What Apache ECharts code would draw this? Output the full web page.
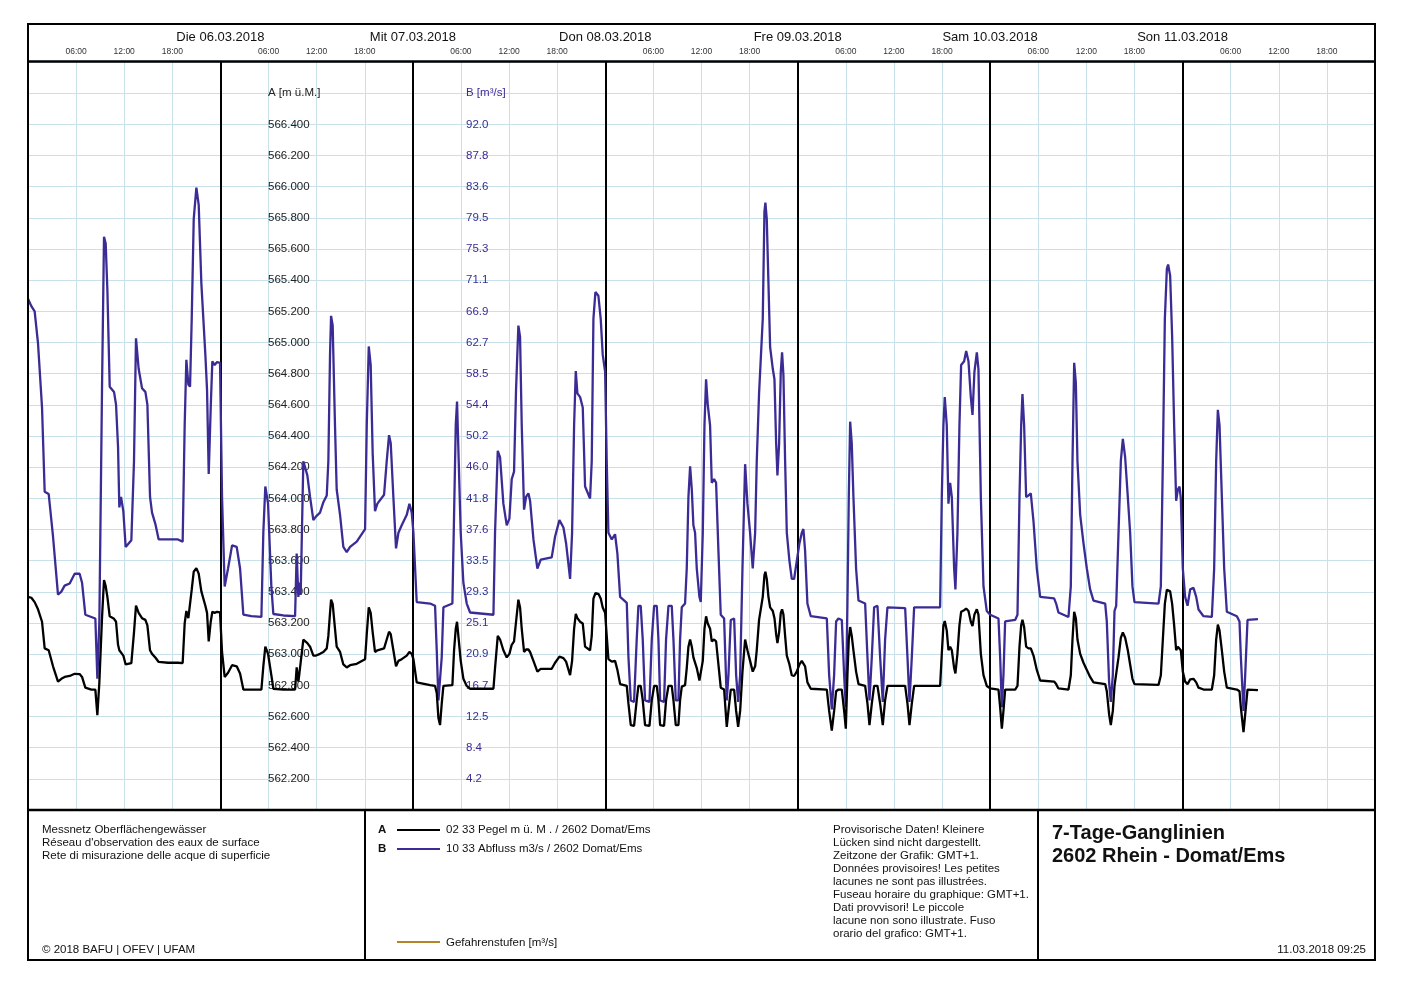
<!DOCTYPE html>
<html><head><meta charset="utf-8">
<script src="https://cdn.jsdelivr.net/npm/echarts@6/dist/echarts.min.js"></script>
<style>html,body{margin:0;padding:0;background:#fff}#c{width:1402px;height:988px}</style>
</head><body><div id="c"></div>
<script>
// Time in hours since Mon 05.03.2018 00:00 (GMT+1)
const hours = [0.00,0.42,0.83,1.25,1.75,2.08,2.58,3.12,3.74,4.16,4.57,5.20,5.82,6.44,6.74,7.15,7.90,8.40,8.65,8.90,
9.23,9.48,9.69,9.90,10.19,10.73,10.98,11.23,11.39,11.60,11.89,12.18,12.89,13.22,13.47,13.80,14.22,14.64,14.89,15.22,
15.47,15.88,16.30,17.46,18.71,19.29,19.54,19.75,20.00,20.21,20.42,20.67,21.00,21.29,21.62,22.12,22.33,22.54,22.79,22.99,
23.28,23.58,23.95,24.20,24.53,24.95,25.45,26.03,26.45,26.86,27.86,29.11,29.35,29.60,29.94,30.35,30.60,31.85,33.31,33.51,
33.72,33.85,34.01,34.34,34.55,34.84,35.18,35.59,35.93,36.42,36.84,37.26,37.46,37.67,37.80,38.00,38.29,38.50,38.92,39.33,
39.75,40.17,41.00,42.04,42.25,42.50,42.74,42.99,43.28,43.58,44.41,44.74,45.03,45.24,45.57,45.90,46.20,46.61,47.24,47.57,
47.86,48.07,48.48,50.15,50.77,50.98,51.19,51.39,51.60,51.81,52.93,53.14,53.35,53.51,53.72,53.97,54.30,54.72,55.14,58.05,
58.25,58.59,58.88,59.29,59.71,60.04,60.33,60.62,60.87,61.16,61.37,61.58,61.87,62.12,62.41,62.62,63.04,63.53,63.95,65.32,
65.74,66.28,66.78,67.11,67.61,67.86,68.11,68.32,68.52,68.86,69.19,69.48,70.10,70.31,70.52,70.77,71.14,71.43,71.68,71.98,
72.18,72.39,72.81,73.22,73.51,73.85,74.68,74.89,75.18,75.59,75.92,76.13,76.42,76.67,76.96,77.51,77.80,78.09,78.42,78.63,
78.84,79.33,79.58,79.88,80.29,80.50,80.79,81.12,81.33,81.54,81.95,82.16,82.37,82.58,82.79,82.99,83.20,83.41,83.74,83.91,
84.16,84.37,84.57,84.78,85.07,85.28,85.57,85.82,86.11,86.40,86.82,87.15,87.36,87.65,88.07,88.32,88.57,88.82,89.11,89.44,
89.73,90.06,90.39,90.69,90.89,91.18,91.39,91.64,91.85,91.97,92.14,92.35,92.56,92.89,93.10,93.31,93.47,93.68,93.89,94.05,
94.22,94.43,94.64,94.97,95.26,95.55,95.88,96.22,96.51,96.71,96.92,97.21,97.63,99.63,99.92,100.25,100.54,100.79,101.08,101.50,
101.79,102.00,102.20,102.37,102.54,102.74,102.95,103.28,103.58,104.41,104.70,104.95,105.24,105.53,105.95,106.28,106.61,106.90,107.19,109.40,
109.69,109.94,110.23,110.52,113.76,113.97,114.17,114.34,114.59,114.80,115.01,115.22,115.51,115.67,115.92,116.17,116.38,116.76,117.01,117.30,
117.59,117.80,118.04,118.34,118.54,118.84,119.17,119.58,120.00,121.04,121.25,121.46,121.66,121.87,123.12,123.41,123.66,123.87,124.03,124.24,
124.49,124.78,125.07,125.41,125.82,126.24,127.98,128.23,128.52,129.77,130.06,130.27,130.48,130.69,130.89,131.23,131.64,132.06,132.47,132.89,
134.35,134.55,134.84,135.05,135.30,135.51,135.72,136.01,136.30,136.55,136.84,137.17,137.46,137.75,138.00,141.00,141.29,141.54,141.79,142.04,
142.20,142.45,142.70,142.95,143.20,143.41,143.62,143.78,144.03,144.32,144.62,144.95,145.36,145.70,145.99,146.61,147.65,147.94,148.19,148.40,
148.61,148.90,149.19,149.52,150.77,151.10,151.27,151.60,151.81,152.10,153.40];

// A: 02 33 Pegel m ü. M.
const stageA = [563.368,563.362,563.334,563.288,563.208,563.037,563.025,562.922,562.824,562.842,562.854,562.860,562.874,562.872,562.854,562.785,562.773,562.773,562.609,562.819,
563.231,563.476,563.437,563.368,563.243,563.227,563.208,563.060,563.025,563.030,562.991,562.934,562.943,563.140,563.311,563.265,563.231,563.220,563.185,563.025,
563.002,562.979,562.950,562.945,562.945,562.943,563.197,563.277,563.231,563.231,563.414,563.529,563.552,563.517,563.403,563.311,563.265,563.082,563.208,563.272,
563.265,563.272,563.268,563.014,562.854,562.881,562.929,562.922,562.876,562.773,562.773,562.773,562.922,563.048,563.002,562.865,562.778,562.773,562.773,562.915,
562.824,562.876,562.865,563.094,563.101,563.071,563.048,562.991,562.991,563.002,563.014,563.037,563.117,563.265,563.350,563.323,563.163,563.048,563.014,562.934,
562.915,562.929,562.938,562.968,563.128,563.300,563.265,563.140,563.014,563.025,563.037,563.094,563.144,563.128,563.025,562.922,562.957,562.968,562.991,563.014,
563.002,562.968,562.819,562.801,562.796,562.751,562.590,562.545,562.682,562.796,562.801,563.025,563.163,563.208,563.094,562.957,562.842,562.796,562.778,562.778,
562.911,563.117,563.094,563.025,562.979,563.002,563.060,563.082,563.208,563.350,563.300,563.163,563.014,563.030,563.030,563.014,562.957,562.888,562.906,562.906,
562.945,562.984,562.975,562.952,562.865,562.957,563.163,563.259,563.231,563.208,563.197,563.048,563.025,563.117,563.357,563.391,563.387,563.357,563.300,563.265,
563.117,562.968,562.952,562.957,562.899,562.808,562.796,562.682,562.545,562.540,562.705,562.796,562.796,562.705,562.545,562.540,562.705,562.796,562.796,562.705,
562.545,562.540,562.705,562.796,562.796,562.705,562.545,562.545,562.705,562.792,562.801,562.911,563.048,563.094,563.048,562.979,562.968,562.911,562.831,562.819,
562.957,563.163,563.243,563.197,563.163,563.082,563.094,563.082,562.934,562.785,562.773,562.533,562.636,562.773,562.773,562.636,562.533,562.636,562.888,563.094,
563.025,562.957,562.888,562.922,563.025,563.220,563.231,563.368,563.506,563.529,563.483,563.368,563.300,563.277,563.231,563.128,563.071,563.140,563.265,563.288,
563.254,563.117,562.991,562.934,562.865,562.860,562.888,562.934,562.957,562.968,562.922,562.819,562.778,562.773,562.636,562.510,562.636,562.762,562.773,562.773,
562.636,562.522,562.865,563.094,563.174,563.117,563.025,562.888,562.808,562.796,562.682,562.545,562.682,562.796,562.796,562.682,562.545,562.705,562.796,562.796,
562.682,562.545,562.682,562.796,562.796,563.002,563.185,563.213,563.151,563.025,563.048,563.025,562.911,562.876,563.002,563.185,563.272,563.282,563.293,563.277,
563.208,563.181,563.254,563.288,563.254,563.002,562.865,562.796,562.780,562.773,562.659,562.522,562.636,562.773,562.773,562.796,563.048,563.185,563.220,563.174,
563.048,563.037,563.037,562.991,562.899,562.831,562.824,562.808,562.780,562.773,562.865,563.094,563.272,563.231,563.094,563.002,562.945,562.899,562.854,562.819,
562.808,562.762,562.613,562.545,562.636,562.796,562.808,562.979,563.105,563.140,563.105,563.025,562.934,562.842,562.808,562.803,562.865,563.094,563.323,563.414,
563.426,563.403,563.323,563.185,563.025,563.048,563.053,563.025,562.888,562.824,562.808,562.838,562.842,562.819,562.785,562.773,562.773,562.865,563.094,563.190,
563.151,563.025,562.888,562.785,562.773,562.762,562.659,562.499,562.613,562.773,562.769];

// B: 10 33 Abfluss m3/s
const flowB = [68.6,67.6,66.9,62.6,54.0,42.7,42.4,36.7,28.9,29.3,30.1,30.4,31.7,31.7,30.5,26.2,25.9,25.7,17.6,25.3,
56.4,76.9,76.0,69.8,56.8,56.1,54.4,48.7,40.6,42.0,40.1,35.3,36.2,46.8,63.3,59.2,56.6,56.1,54.4,42.0,
39.9,38.4,36.3,36.3,36.3,36.0,51.6,60.4,57.1,56.8,65.9,79.3,83.5,81.2,70.7,61.1,56.4,45.1,54.0,60.2,
59.7,60.1,60.0,42.0,30.0,32.4,35.5,35.3,32.4,26.2,26.0,25.9,37.2,43.4,41.1,30.0,26.3,26.1,26.0,34.4,
28.6,30.5,28.9,46.8,47.0,44.9,42.0,38.9,39.4,39.9,41.3,42.2,46.8,61.1,66.3,65.0,51.6,43.0,39.6,35.3,
34.6,35.3,36.0,37.7,51.6,62.2,59.7,47.8,40.1,41.1,42.3,46.8,50.3,49.2,42.0,35.1,37.2,38.2,39.6,41.1,
39.9,37.2,27.9,27.7,27.4,21.4,14.7,14.5,20.5,27.2,27.7,39.6,51.6,54.8,46.8,37.2,30.5,27.7,26.5,26.2,
37.2,48.2,47.3,41.1,38.2,39.1,44.4,45.4,56.4,65.0,63.5,51.6,40.3,42.0,42.5,41.5,36.3,32.4,33.6,33.9,
36.7,38.9,37.9,35.8,31.0,37.2,51.6,58.9,55.9,55.4,54.0,43.4,41.8,46.8,65.9,69.5,69.0,65.9,61.1,58.8,
46.8,37.2,36.3,37.0,34.4,28.6,27.8,20.5,14.7,14.5,22.9,27.4,27.4,22.9,14.7,14.5,22.9,27.4,27.4,22.9,
14.7,14.5,22.9,27.4,27.4,22.9,14.7,14.7,22.9,27.2,27.7,32.4,42.0,46.1,43.0,38.2,37.2,32.4,28.6,27.9,
37.2,51.6,57.8,54.4,51.6,43.9,44.4,43.9,34.8,26.2,25.7,14.7,18.1,25.5,25.7,18.1,14.5,18.1,32.4,46.4,
41.1,37.2,32.4,37.2,46.8,55.9,56.1,65.9,80.3,81.5,79.3,70.7,62.1,59.2,57.8,49.2,44.9,49.2,58.8,61.4,
58.3,46.8,37.2,33.4,31.0,31.0,33.4,35.8,37.2,37.7,34.8,27.7,26.0,25.7,18.1,13.5,18.1,25.3,25.7,25.5,
18.1,13.8,27.7,42.0,52.1,49.2,42.0,32.4,28.1,27.7,20.5,14.7,20.5,27.2,27.4,20.5,14.5,22.9,27.2,27.1,
20.5,14.5,20.5,27.2,27.2,42.0,51.6,55.4,51.6,41.1,43.9,42.0,32.4,29.6,37.2,51.6,59.7,60.2,61.6,60.2,
55.4,53.0,58.8,61.4,59.2,42.0,30.0,26.7,26.2,25.7,20.5,13.8,18.1,25.3,25.5,26.2,42.0,51.6,55.8,51.6,
42.0,42.2,42.5,38.7,32.4,28.6,28.4,27.7,26.5,25.9,30.0,46.8,60.0,57.3,46.8,39.6,35.8,32.4,29.6,28.1,
27.7,25.3,17.1,14.5,18.1,26.7,27.4,37.2,46.8,49.8,47.3,42.0,37.2,30.0,27.9,27.7,30.0,46.8,65.9,72.6,
73.2,71.7,63.5,51.6,41.5,43.0,43.4,41.8,32.4,28.6,27.4,29.6,29.8,28.6,26.9,26.0,25.9,32.4,46.8,53.7,
51.6,42.0,32.4,26.6,26.0,25.3,20.5,13.3,18.1,25.5,25.6];

const dayLabels = ['', 'Die 06.03.2018', 'Mit 07.03.2018', 'Don 08.03.2018', 'Fre 09.03.2018', 'Sam 10.03.2018', 'Son 11.03.2018', ''];
const axisTitleA = 'A [m ü.M.]';
const axisTitleB = 'B [m³/s]';
const aMin = 562.0, aStep = 0.2, aCount = 24;
const bStep = 92 / 22, bCount = 24;

const FONT = '"Liberation Sans", Arial, Helvetica, sans-serif';
const BLUE = '#3a2c94';
const GRID = '#c8e0ea';

const chart = echarts.init(document.getElementById('c'));
const txt = (text, x, y, o = {}) => ({
  type: 'text', z: 110,
  style: Object.assign({ text, x, y, fill: '#111', font: '11.5px ' + FONT, align: 'left', verticalAlign: 'middle' }, o)
});
const ln = (x1, y1, x2, y2, color, w) => ({
  type: 'line', z: 105, shape: { x1, y1, x2, y2 }, style: { stroke: color, lineWidth: w }
});

chart.setOption({
  animation: false,
  backgroundColor: '#fff',
  textStyle: { fontFamily: FONT },
  grid: { left: 28, right: 27, top: 62, bottom: 178 },
  xAxis: [
    {
      type: 'value', min: 0, max: 168, interval: 6, position: 'top',
      axisLine: { show: false }, axisTick: { show: false },
      splitLine: { show: true, lineStyle: { color: GRID, width: 1 } },
      axisLabel: {
        fontSize: 8.5, color: '#333', margin: 6, fontFamily: FONT,
        formatter: v => (v % 24 === 0) ? '' : String(v % 24).padStart(2, '0') + ':00'
      }
    },
    {
      type: 'value', min: 0, max: 168, interval: 24, position: 'top',
      axisLine: { show: false }, axisTick: { show: false },
      splitLine: { show: true, lineStyle: { color: '#000', width: 2 } },
      axisLabel: {
        fontSize: 13, color: '#111', margin: 18, fontFamily: FONT,
        formatter: v => dayLabels[Math.round(v / 24)] || ''
      }
    }
  ],
  yAxis: [
    {
      type: 'value', min: aMin, max: aMin + aStep * aCount, interval: aStep, position: 'left',
      axisLine: { show: false }, axisTick: { show: false },
      splitLine: { show: true, lineStyle: { color: GRID, width: 1 } },
      axisLabel: {
        inside: true, margin: 240, fontSize: 11.5, color: '#222', fontFamily: FONT,
        formatter: v => {
          const k = Math.round((v - aMin) / aStep);
          if (k >= 1 && k <= 22) return (aMin + k * aStep).toFixed(3);
          if (k === 23) return axisTitleA;
          return '';
        }
      }
    },
    {
      type: 'value', min: 0, max: bStep * bCount, interval: bStep, position: 'left',
      axisLine: { show: false }, axisTick: { show: false },
      splitLine: { show: false },
      axisLabel: {
        inside: true, margin: 438, fontSize: 11.5, color: BLUE, fontFamily: FONT,
        formatter: v => {
          const k = Math.round(v / bStep);
          if (k >= 1 && k <= 22) return (k * bStep).toFixed(1);
          if (k === 23) return axisTitleB;
          return '';
        }
      }
    }
  ],
  series: [
    {
      name: 'A', type: 'line', xAxisIndex: 0, yAxisIndex: 0, showSymbol: false, z: 4,
      lineStyle: { color: '#000', width: 2.3 }, itemStyle: { color: '#000' },
      data: hours.map((h, i) => [h, stageA[i]])
    },
    {
      name: 'B', type: 'line', xAxisIndex: 0, yAxisIndex: 1, showSymbol: false, z: 3,
      lineStyle: { color: BLUE, width: 2.3 }, itemStyle: { color: BLUE },
      data: hours.map((h, i) => [h, flowB[i]])
    }
  ],
  graphic: [
    { type: 'rect', z: 105, shape: { x: 28, y: 24, width: 1347, height: 936 }, style: { fill: 'none', stroke: '#000', lineWidth: 2 } },
    ln(28, 61.5, 1375, 61.5, '#000', 2.5),
    ln(28, 810, 1375, 810, '#000', 2.5),
    ln(365, 810, 365, 960, '#000', 2),
    ln(1038, 810, 1038, 960, '#000', 2),
    txt('Messnetz Oberflächengewässer\nRéseau d\'observation des eaux de surface\nRete di misurazione delle acque di superficie', 42, 843, { lineHeight: 13 }),
    txt('© 2018 BAFU | OFEV | UFAM', 42, 950),
    txt('A', 378, 830, { font: 'bold 11.5px ' + FONT }),
    ln(397, 830, 440, 830, '#000', 2.2),
    txt('02 33 Pegel m ü. M . / 2602 Domat/Ems', 446, 830),
    txt('B', 378, 849, { font: 'bold 11.5px ' + FONT }),
    ln(397, 849, 440, 849, BLUE, 2.2),
    txt('10 33 Abfluss m3/s / 2602 Domat/Ems', 446, 849),
    ln(397, 942, 440, 942, '#b5832a', 2.2),
    txt('Gefahrenstufen [m³/s]', 446, 943),
    txt('Provisorische Daten! Kleinere\nLücken sind nicht dargestellt.\nZeitzone der Grafik: GMT+1.\nDonnées provisoires! Les petites\nlacunes ne sont pas illustrées.\nFuseau horaire du graphique: GMT+1.\nDati provvisori! Le piccole\nlacune non sono illustrate. Fuso\norario del grafico: GMT+1.', 833, 882, { lineHeight: 13 }),
    txt('7-Tage-Ganglinien', 1052, 833, { font: 'bold 20px ' + FONT }),
    txt('2602 Rhein - Domat/Ems', 1052, 856, { font: 'bold 20px ' + FONT }),
    txt('11.03.2018 09:25', 1366, 950, { align: 'right' })
  ]
});
</script>
</body></html>
